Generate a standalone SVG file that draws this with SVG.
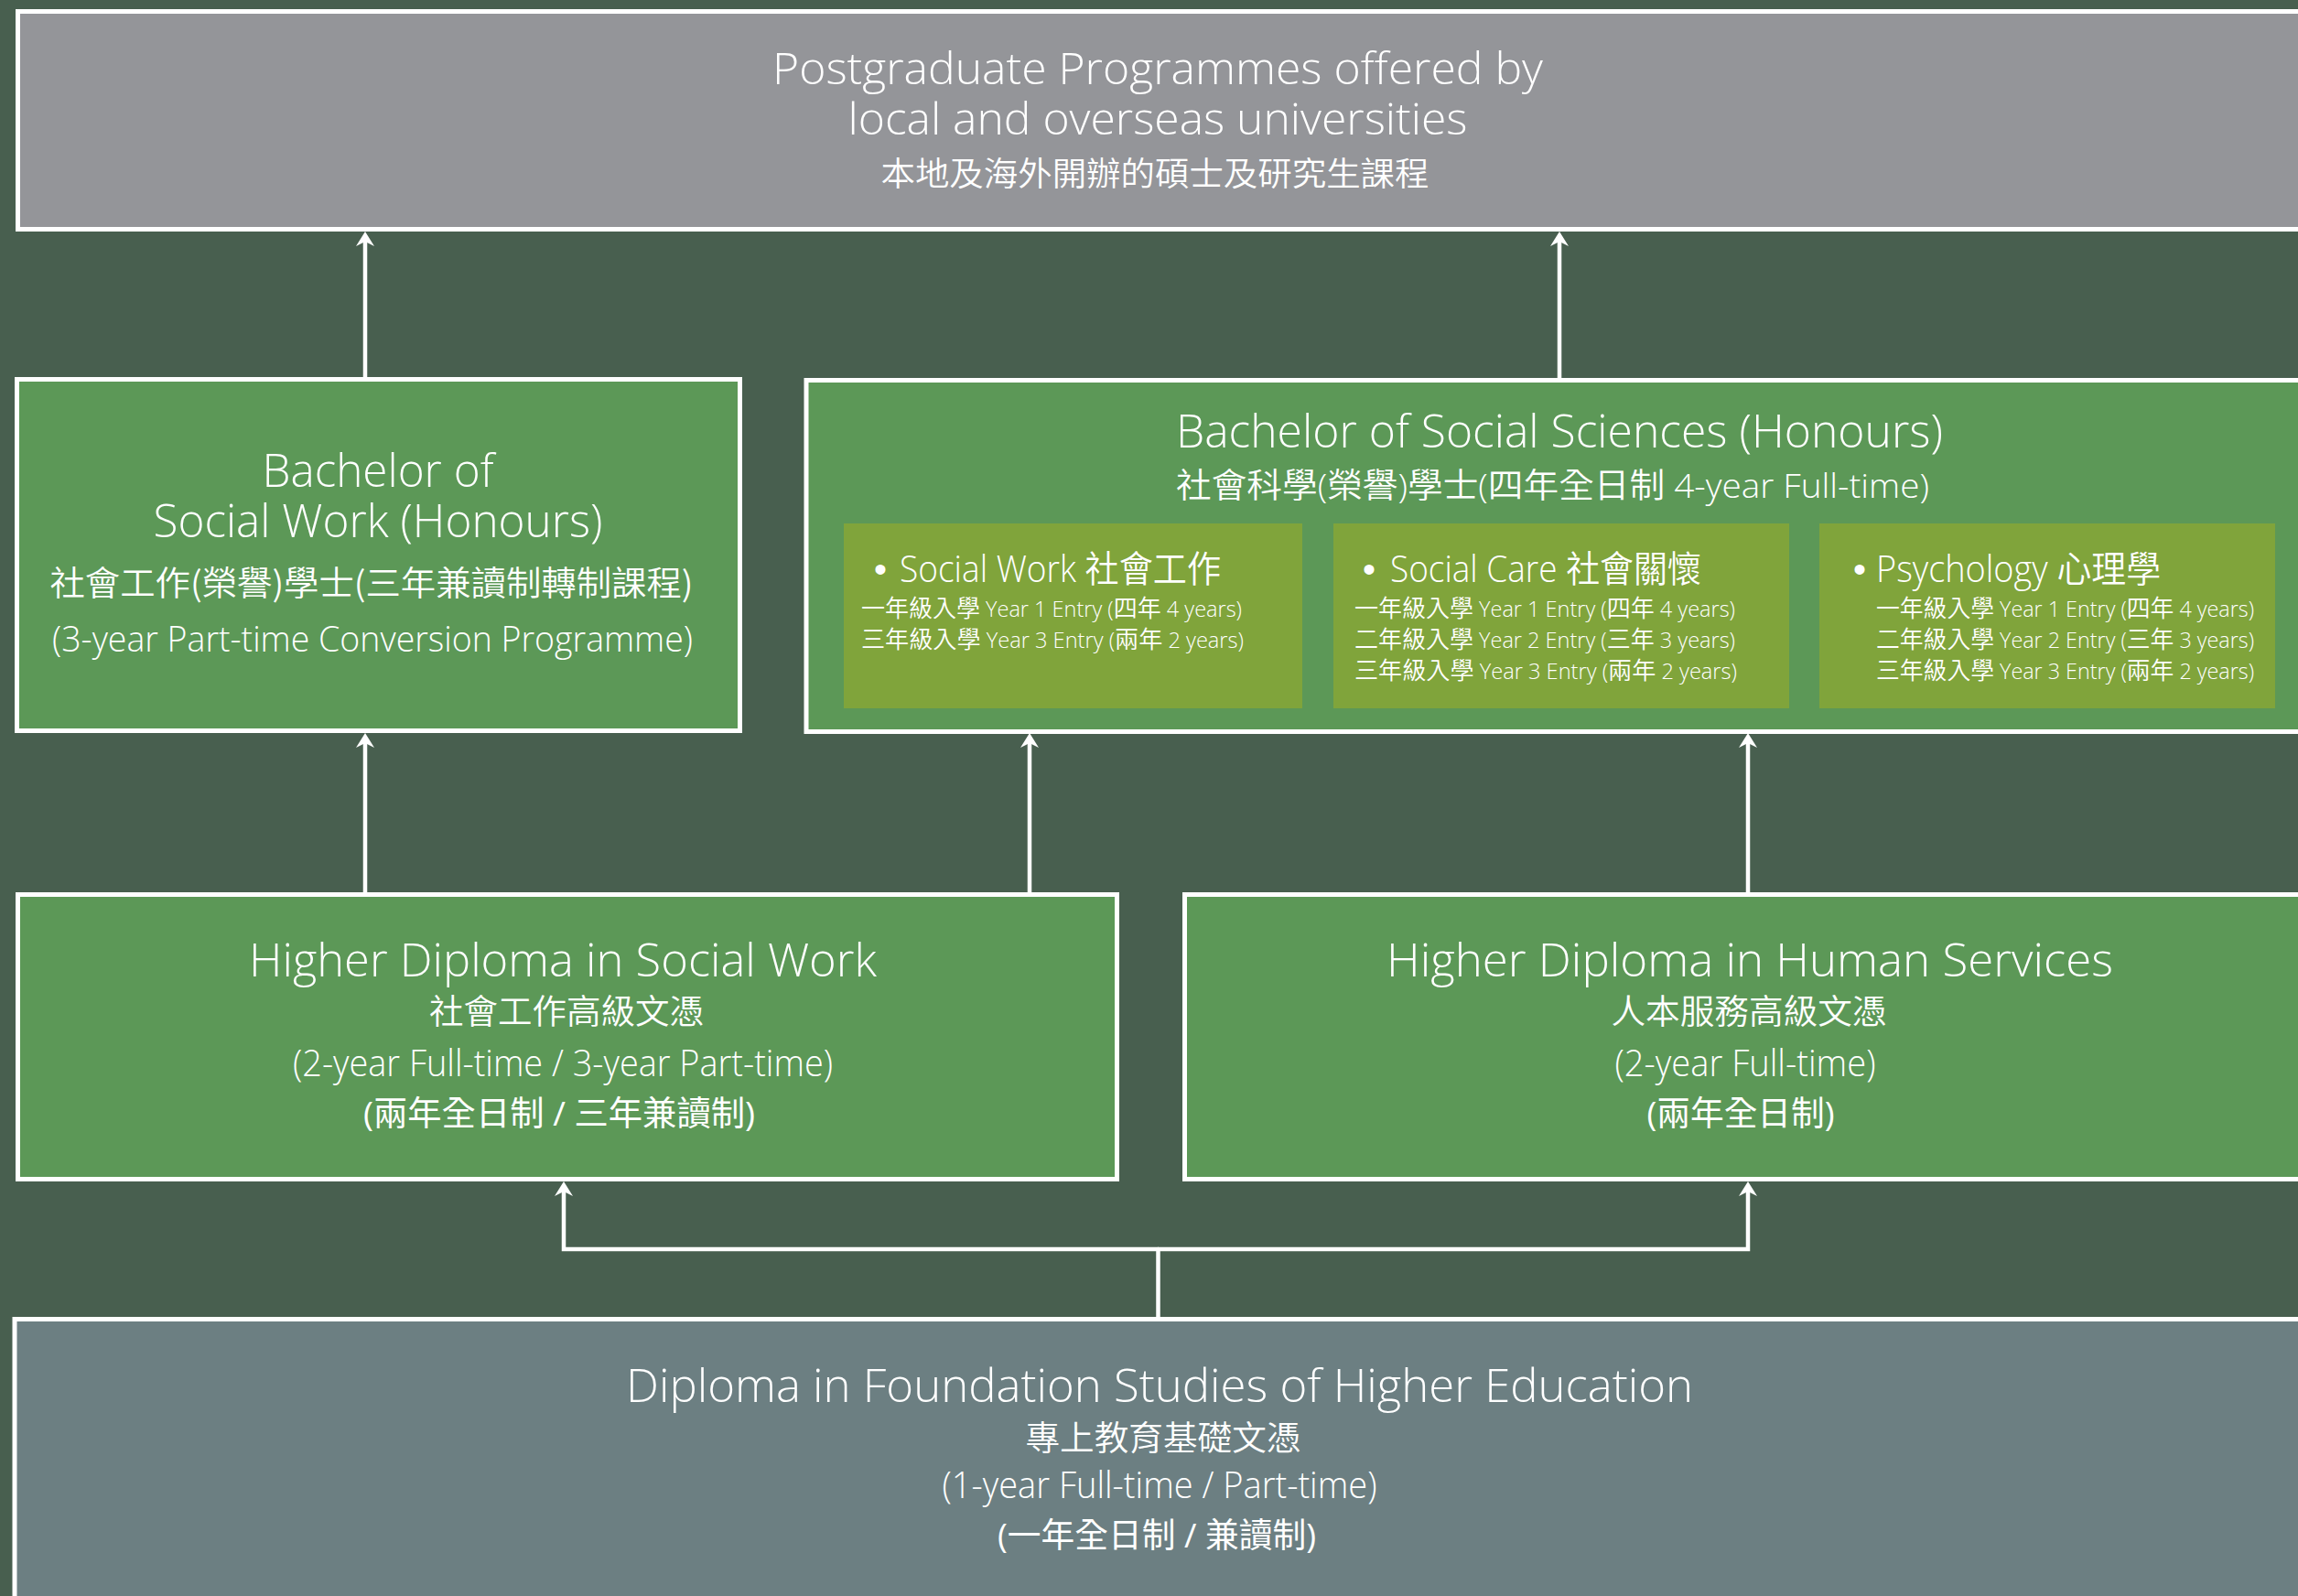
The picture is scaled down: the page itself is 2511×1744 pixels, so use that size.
<svg xmlns="http://www.w3.org/2000/svg" width="2511" height="1744" viewBox="0 0 2511 1744">
<defs>
<style>
.box{stroke:#fff;stroke-width:5}
.grey{fill:#949599}
.green{fill:#5c9857}
.olive{fill:#80a43b}
.slate{fill:#6c7f82}
.t{font-family:"Open Sans","Noto Sans CJK TC",sans-serif;fill:#fff;text-anchor:middle}
.s{text-anchor:start}
.l{font-weight:300}
.r{font-weight:350}
.b{font-weight:400}
.e{font-weight:300;font-size:23.5px}
.zh{font-family:"Noto Sans CJK TC","Open Sans",sans-serif;font-weight:350}
.bul{font-family:"Liberation Sans",sans-serif;fill:#fff;text-anchor:middle;font-size:40px}
.conn{fill:none;stroke:#fff;stroke-width:4.5}
</style>
<marker id="ah" markerUnits="userSpaceOnUse" markerWidth="16" markerHeight="20" refX="6" refY="10" orient="auto">
<path d="M16,10 L0,0 L5,10 L0,20 Z" fill="#fff"/>
</marker>
</defs>
<rect width="2511" height="1744" fill="#485f4f"/>

<g id="connectors">
<path class="conn" d="M399,412 V263" marker-end="url(#ah)"/>
<path class="conn" d="M1704,413 V263" marker-end="url(#ah)"/>
<path class="conn" d="M399,975 V811" marker-end="url(#ah)"/>
<path class="conn" d="M1125,975 V811" marker-end="url(#ah)"/>
<path class="conn" d="M1910,975 V811" marker-end="url(#ah)"/>
<path class="conn" d="M1265.5,1439 V1365"/>
<path class="conn" d="M1266,1365 H616 V1301" marker-end="url(#ah)"/>
<path class="conn" d="M1265,1365 H1910 V1301" marker-end="url(#ah)"/>
</g>

<g id="postgraduate">
<rect class="box grey" x="19.5" y="12.5" width="2600" height="238"/>
<text class="t l" x="1265" y="92" font-size="48" textLength="842" lengthAdjust="spacingAndGlyphs">Postgraduate Programmes offered by</text>
<text class="t l" x="1265" y="147" font-size="48" textLength="677" lengthAdjust="spacingAndGlyphs">local and overseas universities</text>
<text class="t zh" x="1262" y="203" font-size="36" textLength="599" lengthAdjust="spacingAndGlyphs">本地及海外開辦的碩士及研究生課程</text>
</g>

<g id="bachelor-social-work">
<rect class="box green" x="18.5" y="414.5" width="790" height="384"/>
<text class="t l" x="413" y="532" font-size="50" textLength="253" lengthAdjust="spacingAndGlyphs">Bachelor of</text>
<text class="t l" x="413" y="587" font-size="50" textLength="491" lengthAdjust="spacingAndGlyphs">Social Work (Honours)</text>
<text class="t zh" x="406" y="651" font-size="37" textLength="703" lengthAdjust="spacingAndGlyphs">社會工作(榮譽)學士(三年兼讀制轉制課程)</text>
<text class="t l" x="407" y="712" font-size="39" textLength="700" lengthAdjust="spacingAndGlyphs">(3-year Part-time Conversion Programme)</text>
</g>

<g id="bachelor-social-sciences">
<rect class="box green" x="881" y="415.5" width="2000" height="384"/>
<text class="t l" x="1704" y="489" font-size="50" textLength="838" lengthAdjust="spacingAndGlyphs">Bachelor of Social Sciences (Honours)</text>
<text class="t s" x="1285" y="544" font-size="37" textLength="823" lengthAdjust="spacingAndGlyphs"><tspan class="r">社會科學(榮譽)學士(四年全日制</tspan><tspan class="l"> 4-year Full-time)</tspan></text>
</g>

<g id="major-social-work">
<rect class="olive" x="922" y="572" width="501" height="202"/>
<text class="bul" x="962" y="636">•</text>
<text class="t s" x="983" y="636" font-size="40" textLength="351" lengthAdjust="spacingAndGlyphs"><tspan class="l">Social Work </tspan><tspan class="r">社會工作</tspan></text>
<text class="t s" x="941" y="674" font-size="26" textLength="416" lengthAdjust="spacingAndGlyphs"><tspan class="r">一年級入學</tspan><tspan class="e"> Year 1 Entry (</tspan><tspan class="r">四年</tspan><tspan class="e"> 4 years)</tspan></text>
<text class="t s" x="941" y="708" font-size="26" textLength="418" lengthAdjust="spacingAndGlyphs"><tspan class="r">三年級入學</tspan><tspan class="e"> Year 3 Entry (</tspan><tspan class="r">兩年</tspan><tspan class="e"> 2 years)</tspan></text>
</g>

<g id="major-social-care">
<rect class="olive" x="1457" y="572" width="498" height="202"/>
<text class="bul" x="1496" y="636">•</text>
<text class="t s" x="1519" y="636" font-size="40" textLength="340" lengthAdjust="spacingAndGlyphs"><tspan class="l">Social Care </tspan><tspan class="r">社會關懷</tspan></text>
<text class="t s" x="1480" y="674" font-size="26" textLength="416" lengthAdjust="spacingAndGlyphs"><tspan class="r">一年級入學</tspan><tspan class="e"> Year 1 Entry (</tspan><tspan class="r">四年</tspan><tspan class="e"> 4 years)</tspan></text>
<text class="t s" x="1480" y="708" font-size="26" textLength="416" lengthAdjust="spacingAndGlyphs"><tspan class="r">二年級入學</tspan><tspan class="e"> Year 2 Entry (</tspan><tspan class="r">三年</tspan><tspan class="e"> 3 years)</tspan></text>
<text class="t s" x="1480" y="742" font-size="26" textLength="418" lengthAdjust="spacingAndGlyphs"><tspan class="r">三年級入學</tspan><tspan class="e"> Year 3 Entry (</tspan><tspan class="r">兩年</tspan><tspan class="e"> 2 years)</tspan></text>
</g>

<g id="major-psychology">
<rect class="olive" x="1988" y="572" width="498" height="202"/>
<text class="bul" x="2032" y="636">•</text>
<text class="t s" x="2050" y="636" font-size="40" textLength="311" lengthAdjust="spacingAndGlyphs"><tspan class="l">Psychology </tspan><tspan class="r">心理學</tspan></text>
<text class="t s" x="2050" y="674" font-size="26" textLength="413" lengthAdjust="spacingAndGlyphs"><tspan class="r">一年級入學</tspan><tspan class="e"> Year 1 Entry (</tspan><tspan class="r">四年</tspan><tspan class="e"> 4 years)</tspan></text>
<text class="t s" x="2050" y="708" font-size="26" textLength="413" lengthAdjust="spacingAndGlyphs"><tspan class="r">二年級入學</tspan><tspan class="e"> Year 2 Entry (</tspan><tspan class="r">三年</tspan><tspan class="e"> 3 years)</tspan></text>
<text class="t s" x="2050" y="742" font-size="26" textLength="413" lengthAdjust="spacingAndGlyphs"><tspan class="r">三年級入學</tspan><tspan class="e"> Year 3 Entry (</tspan><tspan class="r">兩年</tspan><tspan class="e"> 2 years)</tspan></text>
</g>

<g id="hd-social-work">
<rect class="box green" x="19.5" y="977.5" width="1201" height="311"/>
<text class="t l" x="615" y="1067" font-size="50" textLength="686" lengthAdjust="spacingAndGlyphs">Higher Diploma in Social Work</text>
<text class="t zh" x="619" y="1119" font-size="37" textLength="300" lengthAdjust="spacingAndGlyphs">社會工作高級文憑</text>
<text class="t l" x="615" y="1176" font-size="40" textLength="590" lengthAdjust="spacingAndGlyphs">(2-year Full-time / 3-year Part-time)</text>
<text class="t b" x="611" y="1230" font-size="37" textLength="428" lengthAdjust="spacingAndGlyphs">(兩年全日制 / 三年兼讀制)</text>
</g>

<g id="hd-human-services">
<rect class="box green" x="1294.5" y="977.5" width="1300" height="311"/>
<text class="t l" x="1912" y="1067" font-size="50" textLength="794" lengthAdjust="spacingAndGlyphs">Higher Diploma in Human Services</text>
<text class="t zh" x="1911" y="1119" font-size="37" textLength="301" lengthAdjust="spacingAndGlyphs">人本服務高級文憑</text>
<text class="t l" x="1907" y="1176" font-size="40" textLength="285" lengthAdjust="spacingAndGlyphs">(2-year Full-time)</text>
<text class="t b" x="1902" y="1230" font-size="37" textLength="205" lengthAdjust="spacingAndGlyphs">(兩年全日制)</text>
</g>

<g id="foundation-diploma">
<rect class="box slate" x="16" y="1441.5" width="2600" height="400"/>
<text class="t l" x="1267" y="1532" font-size="50" textLength="1166" lengthAdjust="spacingAndGlyphs">Diploma in Foundation Studies of Higher Education</text>
<text class="t zh" x="1271" y="1585" font-size="37" textLength="301" lengthAdjust="spacingAndGlyphs">專上教育基礎文憑</text>
<text class="t l" x="1267" y="1637" font-size="40" textLength="475" lengthAdjust="spacingAndGlyphs">(1-year Full-time / Part-time)</text>
<text class="t b" x="1264" y="1691" font-size="37" textLength="348" lengthAdjust="spacingAndGlyphs">(一年全日制 / 兼讀制)</text>
</g>
</svg>
